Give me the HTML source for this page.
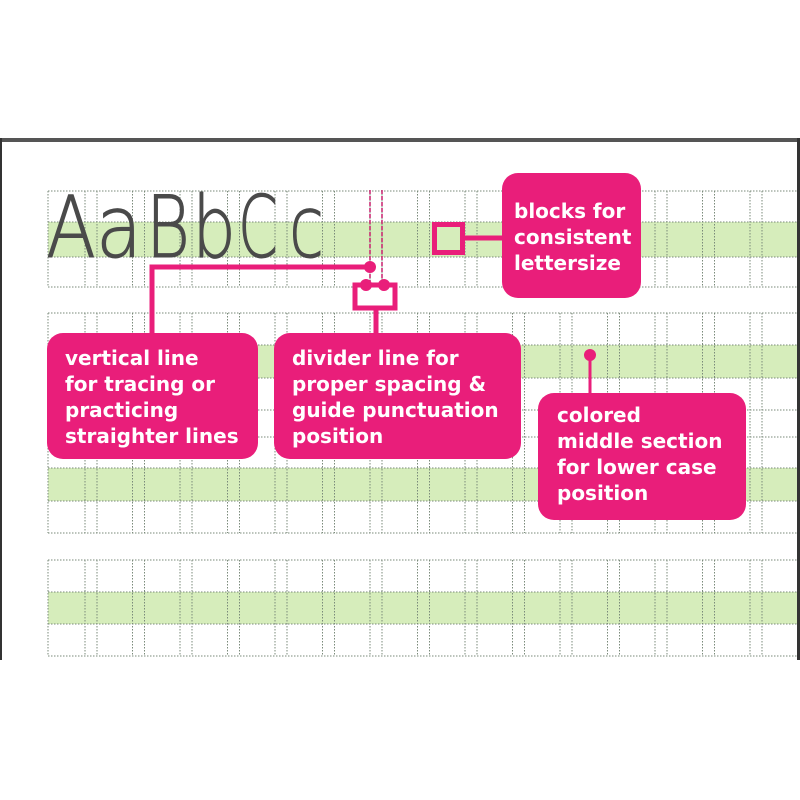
<!DOCTYPE html>
<html><head><meta charset="utf-8"><style>
html,body{margin:0;padding:0;background:#fff;width:800px;height:800px;overflow:hidden}
svg{display:block}
text{font-family:"DejaVu Sans","Liberation Sans",sans-serif;font-weight:bold;fill:#fff;font-size:20px}
.L{font-family:'DejaVu Sans','Liberation Sans',sans-serif;font-weight:200;font-size:86px;fill:#4a4a4a;stroke:#4a4a4a;stroke-width:1}
</style></head><body>
<svg width="800" height="800" viewBox="0 0 800 800" xmlns="http://www.w3.org/2000/svg">
<rect x="0" y="138" width="800" height="4" fill="#555"/>
<rect x="0" y="138" width="2" height="522" fill="#333"/>
<rect x="797" y="138" width="3" height="522" fill="#333"/>
<rect x="48" y="222" width="749" height="35" fill="#d6edbb"/>
<rect x="48" y="345" width="749" height="33" fill="#d6edbb"/>
<rect x="48" y="468" width="749" height="33" fill="#d6edbb"/>
<rect x="48" y="592" width="749" height="32" fill="#d6edbb"/>
<g stroke="#7a8a7a" stroke-width="1" stroke-dasharray="1.5 1.5" fill="none" id="grid">
<path d="M48 191H797M48 222H797M48 257H797M48 287H797
M48 313H797M48 345H797M48 378H797M48 410H797
M48 437H797M48 468H797M48 501H797M48 533H797
M48 560H797M48 592H797M48 624H797M48 656H797
M48 191V287M48 313V533M48 560V656"/>
</g>
<text class="L" x="46" y="257" textLength="50" lengthAdjust="spacingAndGlyphs">A</text>
<text class="L" x="96" y="257" textLength="46" lengthAdjust="spacingAndGlyphs">a</text>
<text class="L" x="146" y="257" textLength="44" lengthAdjust="spacingAndGlyphs">B</text>
<text class="L" x="192" y="257" textLength="44" lengthAdjust="spacingAndGlyphs">b</text>
<text class="L" x="238" y="257" textLength="40" lengthAdjust="spacingAndGlyphs">C</text>
<text class="L" x="289" y="257" textLength="35" lengthAdjust="spacingAndGlyphs">c</text>
<g stroke="#c8206e" stroke-width="1.5" stroke-dasharray="4 2"><path d="M370 190V287M382 190V287"/></g>
<g fill="#e91e7a" stroke="none">
<rect x="502" y="173" width="139" height="125" rx="16"/>
<rect x="47" y="333" width="211" height="126" rx="16"/>
<rect x="274" y="333" width="247" height="126" rx="16"/>
<rect x="538" y="393" width="208" height="127" rx="16"/>
<circle cx="370" cy="267" r="6"/>
<circle cx="366" cy="285" r="6"/>
<circle cx="384" cy="285" r="6"/>
<circle cx="590" cy="355" r="6"/>
</g>
<g stroke="#e91e7a" fill="none">
<rect x="434.5" y="224.5" width="28" height="28" stroke-width="5"/>
<path d="M463 238H502" stroke-width="5"/>
<path d="M370 267H152V333" stroke-width="5"/>
<rect x="355" y="285" width="40" height="23" stroke-width="5"/>
<path d="M376 308V333" stroke-width="5"/>
<path d="M590 355V393" stroke-width="3"/>
</g>
<text x="514" y="218">blocks for</text>
<text x="514" y="244">consistent</text>
<text x="514" y="270">lettersize</text>
<text x="65" y="365">vertical line</text>
<text x="65" y="391">for tracing or</text>
<text x="65" y="417">practicing</text>
<text x="65" y="443">straighter lines</text>
<text x="292" y="365">divider line for</text>
<text x="292" y="391">proper spacing &amp;</text>
<text x="292" y="417">guide punctuation</text>
<text x="292" y="443">position</text>
<text x="557" y="422">colored</text>
<text x="557" y="448">middle section</text>
<text x="557" y="474">for lower case</text>
<text x="557" y="500">position</text>
</svg>
<script>
var g=document.getElementById('grid');var d='';
for(var i=0;i<15;i++){var x=85+i*47.5;[x,x+12].forEach(function(xx){
[[191,287],[313,533],[560,656]].forEach(function(r){d+='M'+xx+' '+r[0]+'V'+r[1];});});}
var p=document.createElementNS('http://www.w3.org/2000/svg','path');p.setAttribute('d',d);g.appendChild(p);
</script>
</body></html>
